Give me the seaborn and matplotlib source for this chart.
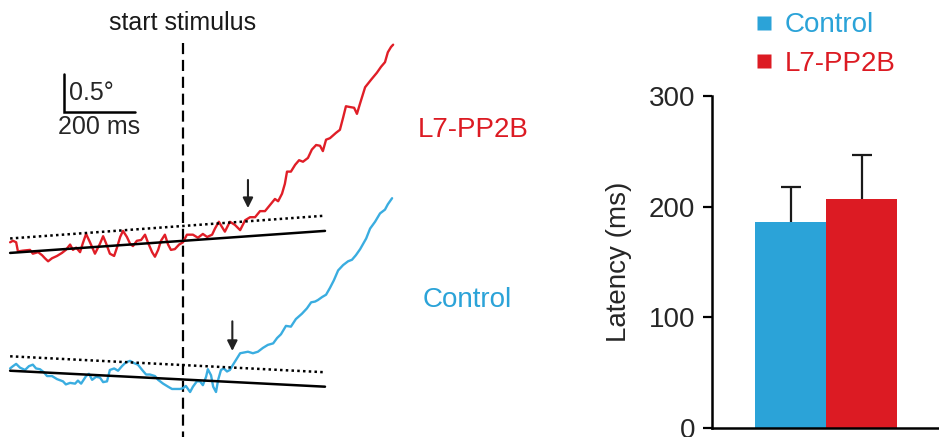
import numpy as np
import pandas as pd
import matplotlib
matplotlib.use("Agg")
import matplotlib.pyplot as plt
from matplotlib.lines import Line2D
import seaborn as sns

# ---------------- data ----------------
# eye position traces (time in ms relative to stimulus start, position in degrees)
red_t = [-487, -479, -470, -465, -451, -431, -423, -408, -397, -389, -380, -369, -355, -341,
         -330, -318, -310, -301, -290, -282, -273, -262, -248, -234, -225, -217, -206, -194,
         -186, -177, -169, -158, -149, -141, -130, -118, -107, -99, -87, -79, -70, -62, -51,
         -42, -34, -23, -11, 0, 11, 28, 42, 56, 68, 82, 90, 101, 110, 118, 132, 146, 161, 175,
         189, 203, 217, 231, 245, 259, 268, 279, 287, 293, 304, 316, 327, 338, 352, 363, 375,
         386, 394, 403, 414, 431, 442, 451, 459, 470, 482, 490, 499, 513, 530, 546, 558, 569,
         577, 586, 592]
red_pos = [1.68, 1.70, 1.68, 1.56, 1.57, 1.58, 1.53, 1.55, 1.51, 1.47, 1.43, 1.47, 1.50, 1.54,
           1.58, 1.65, 1.58, 1.61, 1.55, 1.67, 1.79, 1.68, 1.53, 1.66, 1.76, 1.67, 1.53, 1.50,
           1.61, 1.75, 1.83, 1.75, 1.66, 1.63, 1.70, 1.71, 1.78, 1.68, 1.55, 1.49, 1.58, 1.70,
           1.78, 1.65, 1.58, 1.59, 1.65, 1.68, 1.78, 1.78, 1.74, 1.79, 1.75, 1.78, 1.86, 1.95,
           1.88, 1.82, 1.95, 1.91, 1.84, 1.97, 2.01, 2.01, 2.09, 2.09, 2.17, 2.25, 2.22, 2.32,
           2.45, 2.61, 2.61, 2.70, 2.76, 2.74, 2.79, 2.90, 2.96, 2.95, 2.88, 3.03, 3.05, 3.12,
           3.16, 3.32, 3.47, 3.46, 3.45, 3.37, 3.51, 3.72, 3.82, 3.91, 3.99, 4.05, 4.18, 4.25,
           4.28]

blue_t = [-487, -479, -470, -459, -445, -434, -423, -414, -403, -392, -383, -369, -355, -338,
          -330, -318, -304, -296, -287, -273, -265, -256, -245, -234, -225, -214, -206, -194,
          -183, -172, -161, -149, -138, -127, -115, -104, -93, -79, -70, -56, -42, -31, -8, 0,
          8, 20, 28, 39, 48, 56, 65, 70, 79, 85, 93, 99, 107, 115, 124, 132, 141, 149, 161,
          172, 183, 197, 211, 225, 239, 254, 265, 276, 290, 304, 318, 335, 349, 361, 372, 380,
          392, 403, 414, 425, 437, 451, 465, 476, 487, 499, 516, 527, 541, 555, 569, 577, 589]
blue_pos = [0.02, 0.05, 0.08, 0.03, 0.00, 0.05, 0.07, 0.02, 0.01, -0.03, -0.08, -0.08, -0.12,
            -0.15, -0.19, -0.17, -0.18, -0.14, -0.18, -0.08, -0.05, -0.13, -0.09, -0.10, -0.16,
            -0.15, 0.00, 0.02, -0.01, 0.05, 0.10, 0.12, 0.09, 0.07, 0.00, -0.06, -0.06, -0.08,
            -0.13, -0.18, -0.22, -0.25, -0.25, -0.24, -0.21, -0.29, -0.22, -0.15, -0.15, -0.20,
            -0.09, 0.01, -0.07, -0.22, -0.29, -0.13, 0.00, 0.02, -0.02, 0.00, 0.07, 0.13, 0.22,
            0.23, 0.24, 0.22, 0.24, 0.29, 0.33, 0.35, 0.42, 0.47, 0.58, 0.57, 0.67, 0.74, 0.81,
            0.89, 0.90, 0.92, 0.96, 0.99, 1.08, 1.18, 1.31, 1.38, 1.43, 1.45, 1.51, 1.59, 1.73,
            1.86, 1.95, 2.06, 2.11, 2.18, 2.26]

# baseline fits (solid) and detection thresholds (dotted)
fit_t = [-487, 400]
red_fit = [1.54, 1.83]
red_thresh = [1.73, 2.03]
blue_fit = [-0.01, -0.22]
blue_thresh = [0.18, -0.03]

# response onset arrows (time, degree top, degree tip)
red_arrow = (183, 2.50, 2.13)
blue_arrow = (139, 0.64, 0.25)

# bar chart
groups = ["Control", "L7-PP2B"]
latency_mean = [186, 207]
latency_sem = [32, 40]
yticks = [0, 100, 200, 300]

BLUE = "#2ba3d8"
RED = "#dc1b23"
TRACE_BLUE = "#3aade0"
TRACE_RED = "#e01e27"

sns.set_style("white")
plt.rcParams["font.family"] = ["Liberation Sans", "DejaVu Sans"]

fig = plt.figure(figsize=(9.39, 4.37), dpi=100)

# ---------------- left panel: traces ----------------
ax = fig.add_axes([0, 0, 560 / 939, 1])
ax.set_xlim(-515.5, 1062)
ax.set_ylim(-0.882, 4.868)
ax.axis("off")

sns.lineplot(x=red_t, y=red_pos, ax=ax, color=TRACE_RED, lw=1.7, sort=False, estimator=None)
sns.lineplot(x=blue_t, y=blue_pos, ax=ax, color=TRACE_BLUE, lw=1.7, sort=False, estimator=None)

ax.plot(fit_t, red_fit, color="black", lw=1.8)
ax.plot(fit_t, red_thresh, color="black", lw=1.8, ls=(0, (1, 1.3)))
ax.plot(fit_t, blue_fit, color="black", lw=1.8)
ax.plot(fit_t, blue_thresh, color="black", lw=1.8, ls=(0, (1, 1.3)))

# stimulus onset
ax.plot([0, 0], [4.30, -0.9], color="black", lw=1.6, ls=(0, (5, 2.6)), zorder=1)
ax.text(0, 4.47, "start stimulus", ha="center", va="baseline", fontsize=18, color="#1a1a1a")

for (t, ytop, ytip) in [red_arrow, blue_arrow]:
    ax.annotate("", xy=(t, ytip), xytext=(t, ytop),
                arrowprops=dict(arrowstyle="-|>", color="#222222", lw=1.5, mutation_scale=15,
                                shrinkA=0, shrinkB=0))

# scale bar
sb_t, sb_y = -335, 3.39
ax.plot([sb_t, sb_t, sb_t + 200], [sb_y + 0.5, sb_y, sb_y], color="black", lw=1.8,
        solid_joinstyle="miter")
ax.text(sb_t + 14, 3.55, "0.5°", ha="left", va="baseline", fontsize=18)
ax.text(sb_t + 98, 3.10, "200 ms", ha="center", va="baseline", fontsize=18)

ax.text(662, 3.06, "L7-PP2B", color=RED, ha="left", va="baseline", fontsize=20)
ax.text(676, 0.83, "Control", color=BLUE, ha="left", va="baseline", fontsize=20)

# ---------------- right panel: bars ----------------
ax2 = fig.add_axes([712 / 939, 9 / 437, 227 / 939, 332 / 437])
df = pd.DataFrame({"group": groups, "latency": latency_mean})
sns.barplot(data=df, x="group", y="latency", hue="group", order=groups, hue_order=groups,
            palette=[BLUE, RED], width=1.0, saturation=1, legend=False, ax=ax2, errorbar=None)
for p in ax2.patches:
    p.set_edgecolor("none")
    p.set_zorder(2)
eb = ax2.errorbar(x=[0, 1], y=latency_mean, yerr=[[0, 0], latency_sem], fmt="none",
                  ecolor="#1a1a1a", elinewidth=1.6, capsize=7.2, capthick=1.6, zorder=1)
# only the upper caps are shown
for cap in eb[1]:
    yd = np.asarray(cap.get_ydata(), dtype=float)
    if np.allclose(yd, latency_mean):
        cap.set_visible(False)
ax2.set_xlim(-1.106, 2.09)
ax2.set_ylim(0, 300)
ax2.set_yticks(yticks)
ax2.set_xticks([])
ax2.set_xlabel("")
ax2.set_ylabel("Latency (ms)", fontsize=20, labelpad=12)
ax2.tick_params(axis="y", labelsize=20, length=6.5, width=1.6, pad=5.5, left=True,
                direction="out", color="black")
for side in ["top", "right"]:
    ax2.spines[side].set_visible(False)
for side in ["left", "bottom"]:
    ax2.spines[side].set_linewidth(1.8)
    ax2.spines[side].set_color("black")
    ax2.spines[side].set_zorder(3)

handles = [Line2D([0], [0], marker="s", ls="none", markersize=10, markerfacecolor=c,
                  markeredgecolor="none") for c in [BLUE, RED]]
fig.legend(handles, groups, loc="upper left", bbox_to_anchor=(750 / 939, 0.972),
           frameon=False, fontsize=20, handlelength=1.0, handletextpad=0.25,
           labelspacing=0.45, borderpad=0, borderaxespad=0, labelcolor=[BLUE, RED])

fig.savefig("out.png", dpi=100)
